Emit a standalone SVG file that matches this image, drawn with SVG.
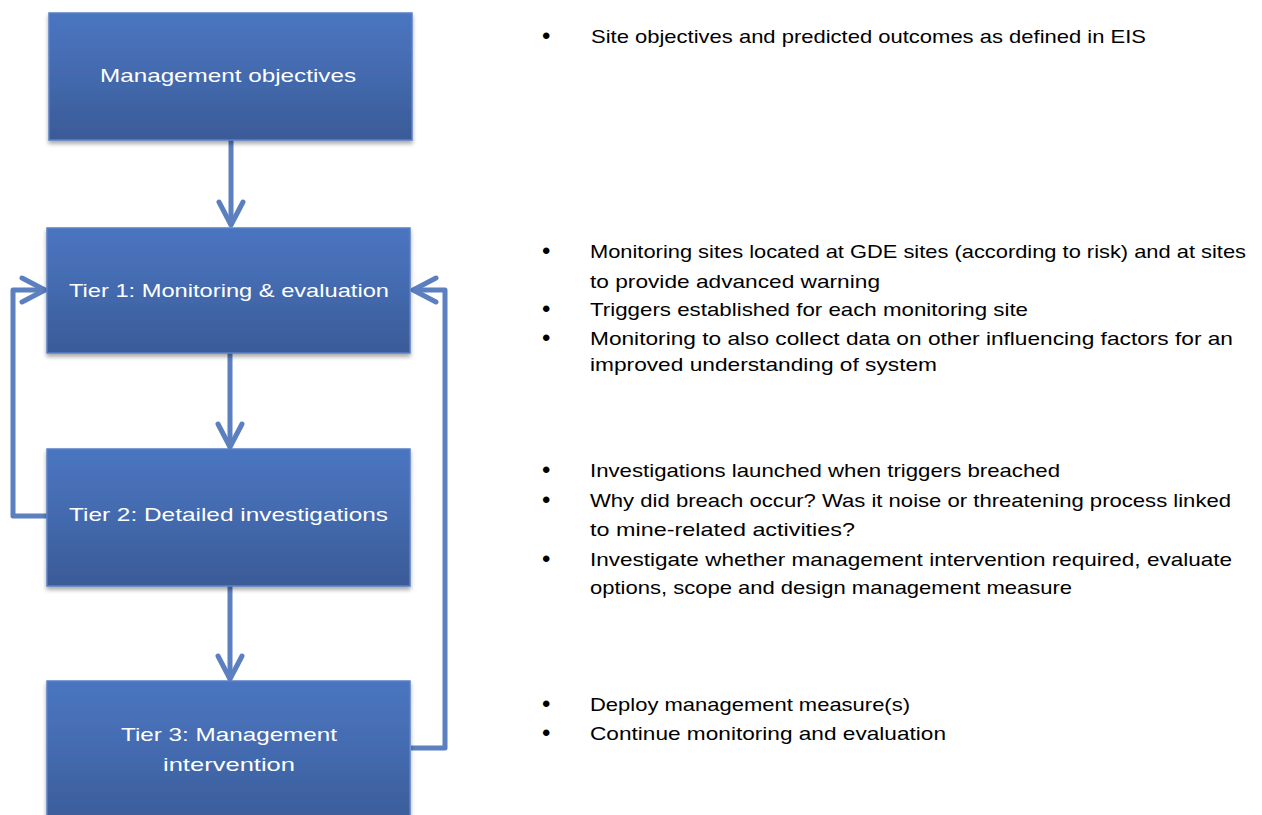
<svg xmlns="http://www.w3.org/2000/svg" width="1262" height="815" viewBox="0 0 1262 815">
<style>
.box{fill:url(#g);stroke:#5a80c6;stroke-width:1.5;filter:url(#sh)}
.bt{font-family:"Liberation Sans",Arial,sans-serif;font-size:19px;fill:#ffffff;text-anchor:start}
.rt{font-family:"Liberation Sans",Arial,sans-serif;font-size:19px;fill:#000000}
.bu{font-family:"Liberation Sans",Arial,sans-serif;font-size:24px;fill:#000000}
.con{fill:none;stroke:#5b7fbf;stroke-width:5;stroke-linejoin:round}
</style>
<defs>
<linearGradient id="g" x1="0" y1="0" x2="0" y2="1">
<stop offset="0" stop-color="#4a75c1"/>
<stop offset="0.5" stop-color="#436aae"/>
<stop offset="1" stop-color="#3a5a97"/>
</linearGradient>
<filter id="sh" x="-5%" y="-5%" width="110%" height="115%">
<feGaussianBlur in="SourceAlpha" stdDeviation="2"/>
<feOffset dx="0" dy="3" result="o"/>
<feComponentTransfer><feFuncA type="linear" slope="0.35"/></feComponentTransfer>
<feMerge><feMergeNode/><feMergeNode in="SourceGraphic"/></feMerge>
</filter>
<marker id="ah" markerUnits="userSpaceOnUse" viewBox="-28 -16 32 32" refX="0" refY="0" markerWidth="32" markerHeight="32" orient="auto" overflow="visible">
<path d="M-23,-12 L0,0 L-23,12" fill="none" stroke="#5b7fbf" stroke-width="5" stroke-linecap="round" stroke-linejoin="round"/>
</marker>
</defs>
<rect width="1262" height="815" fill="#ffffff"/>
<g id="connectors">
<path class="con" d="M231,140 V225" marker-end="url(#ah)"/>
<path class="con" d="M230,353 V447" marker-end="url(#ah)"/>
<path class="con" d="M230,586 V679" marker-end="url(#ah)"/>
<path class="con" d="M47,516 H13 V290 H45" marker-end="url(#ah)"/>
<path class="con" d="M411,748 H445 V290 H413" marker-end="url(#ah)"/>
</g>
<g id="node-management-objectives">
<rect class="box" x="49" y="13" width="363" height="127"/>
<text class="bt" x="100" y="82" textLength="256" lengthAdjust="spacingAndGlyphs">Management objectives</text>
</g>
<g id="node-tier1">
<rect class="box" x="47" y="228" width="363" height="125"/>
<text class="bt" x="69" y="297" textLength="320" lengthAdjust="spacingAndGlyphs">Tier 1: Monitoring &amp; evaluation</text>
</g>
<g id="node-tier2">
<rect class="box" x="47" y="449" width="363" height="137"/>
<text class="bt" x="69" y="521" textLength="319" lengthAdjust="spacingAndGlyphs">Tier 2: Detailed investigations</text>
</g>
<g id="node-tier3">
<rect class="box" x="47" y="681" width="363" height="150"/>
<text class="bt" x="121" y="741" textLength="216" lengthAdjust="spacingAndGlyphs">Tier 3: Management</text>
<text class="bt" x="163" y="771" textLength="132" lengthAdjust="spacingAndGlyphs">intervention</text>
</g>
<g id="notes">
<text class="bu" x="542" y="44">•</text>
<text class="rt" x="591" y="43" textLength="555" lengthAdjust="spacingAndGlyphs">Site objectives and predicted outcomes as defined in EIS</text>

<text class="bu" x="542" y="259">•</text>
<text class="rt" x="590" y="258" textLength="656" lengthAdjust="spacingAndGlyphs">Monitoring sites located at GDE sites (according to risk) and at sites</text>
<text class="rt" x="590" y="288" textLength="290" lengthAdjust="spacingAndGlyphs">to provide advanced warning</text>
<text class="bu" x="542" y="317">•</text>
<text class="rt" x="590" y="316" textLength="438" lengthAdjust="spacingAndGlyphs">Triggers established for each monitoring site</text>
<text class="bu" x="542" y="346">•</text>
<text class="rt" x="590" y="345" textLength="643" lengthAdjust="spacingAndGlyphs">Monitoring to also collect data on other influencing factors for an</text>
<text class="rt" x="590" y="371" textLength="347" lengthAdjust="spacingAndGlyphs">improved understanding of system</text>

<text class="bu" x="542" y="478">•</text>
<text class="rt" x="590" y="477" textLength="470" lengthAdjust="spacingAndGlyphs">Investigations launched when triggers breached</text>
<text class="bu" x="542" y="508">•</text>
<text class="rt" x="590" y="507" textLength="641" lengthAdjust="spacingAndGlyphs">Why did breach occur? Was it noise or threatening process linked</text>
<text class="rt" x="590" y="536" textLength="265" lengthAdjust="spacingAndGlyphs">to mine-related activities?</text>
<text class="bu" x="542" y="567">•</text>
<text class="rt" x="590" y="566" textLength="642" lengthAdjust="spacingAndGlyphs">Investigate whether management intervention required, evaluate</text>
<text class="rt" x="590" y="594" textLength="482" lengthAdjust="spacingAndGlyphs">options, scope and design management measure</text>

<text class="bu" x="542" y="712">•</text>
<text class="rt" x="590" y="711" textLength="320" lengthAdjust="spacingAndGlyphs">Deploy management measure(s)</text>
<text class="bu" x="542" y="741">•</text>
<text class="rt" x="590" y="740" textLength="356" lengthAdjust="spacingAndGlyphs">Continue monitoring and evaluation</text>
</g>
</svg>
